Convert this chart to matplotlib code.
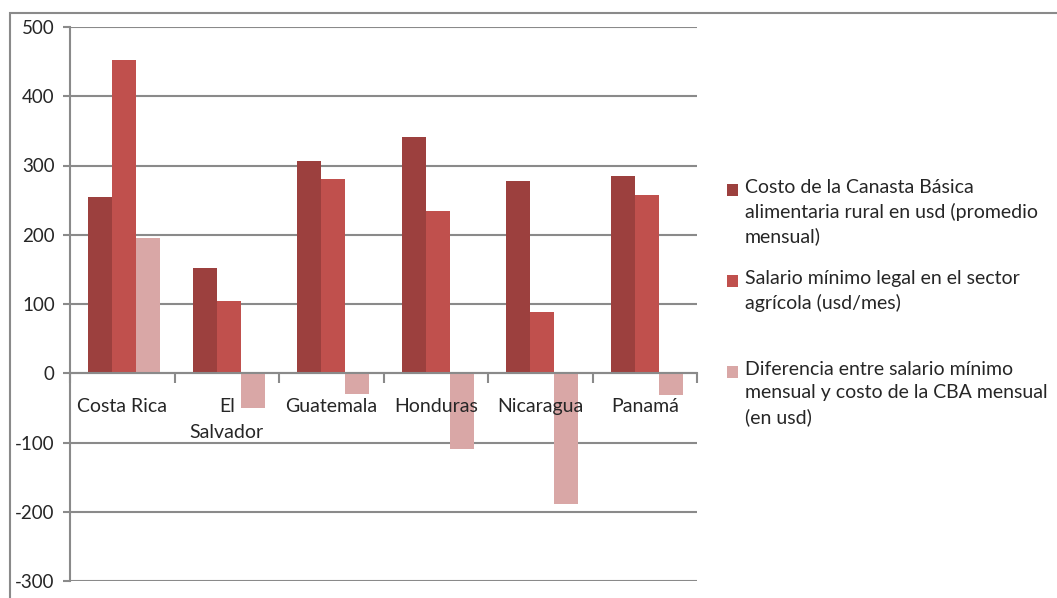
import matplotlib.pyplot as plt
import matplotlib.transforms as mtransforms
import numpy as np
from matplotlib.patches import Rectangle

# =========================
# DATA
# =========================
countries = ["Costa Rica", "El\nSalvador", "Guatemala", "Honduras", "Nicaragua", "Panamá"]

costo_cba = [255, 152, 307, 341, 277, 285]
salario_minimo = [452, 105, 280, 234, 88, 258]
diferencia = [195, -50, -30, -110, -189, -31]

series_labels = [
    "Costo de la Canasta Básica\nalimentaria rural en usd (promedio\nmensual)",
    "Salario mínimo legal en el sector\nagrícola (usd/mes)",
    "Diferencia entre salario mínimo\nmensual y costo de la CBA mensual\n(en usd)",
]
colors = ["#9c403e", "#c0504d", "#d9a7a6"]

yticks = [-300, -200, -100, 0, 100, 200, 300, 400, 500]

# =========================
# STYLE
# =========================
plt.rcParams.update({
    "font.family": ["Lato", "DejaVu Sans"],
    "font.size": 13.5,
    "axes.unicode_minus": False,
})
text_color = "#262626"
grid_color = "#8a8a8a"

W, H = 1057, 598
fig = plt.figure(figsize=(W / 100, H / 100), dpi=100)

# plot area in pixels
left, right, top, bottom = 70, 697, 27, 581
ax = fig.add_axes([left / W, 1 - bottom / H, (right - left) / W, (bottom - top) / H])

x = np.arange(len(countries))
width = 0.23
for i, (vals, col) in enumerate(zip([costo_cba, salario_minimo, diferencia], colors)):
    ax.bar(x + (i - 1) * width + 0.02, vals, width, color=col, zorder=3)

ax.set_xlim(-0.5, len(countries) - 0.5)
ax.set_ylim(-300, 500)
ax.set_yticks(yticks)
ax.yaxis.grid(True, color=grid_color, linewidth=1.5, zorder=0)
ax.tick_params(axis="y", length=5, width=1.5, color=grid_color, labelcolor=text_color, pad=6)

for s in ["top", "right"]:
    ax.spines[s].set_visible(False)
ax.spines["left"].set_color(grid_color)
ax.spines["left"].set_linewidth(1.5)
ax.spines["bottom"].set_position(("data", 0))
ax.spines["bottom"].set_color(grid_color)
ax.spines["bottom"].set_linewidth(1.5)
ax.spines["bottom"].set_zorder(4)

# category boundaries as ticks
ax.set_xticks(np.arange(-0.5, len(countries), 1.0))
ax.set_xticklabels([])
ax.tick_params(axis="x", direction="out", length=7, width=1.5, color=grid_color)

# category names drawn over the bars
offset = mtransforms.ScaledTranslation(0, -25 / 100, fig.dpi_scale_trans)
for xi, name in zip(x, countries):
    ax.text(xi, 0, name, ha="center", va="top", color=text_color, fontsize=14,
            linespacing=1.65, zorder=6, transform=ax.transData + offset)

# outer chart border (cropped on right and bottom)
fig.add_artist(Rectangle((10 / W, -0.1), 1.2, 1.1 - 13 / H, transform=fig.transFigure,
                         fill=False, edgecolor=grid_color, linewidth=1.5))

# legend
legend_y = [190, 281, 372]
for lab, col, ly in zip(series_labels, colors, legend_y):
    fig.add_artist(Rectangle((727 / W, 1 - (ly + 6) / H), 11 / W, 12 / H,
                             transform=fig.transFigure, facecolor=col, edgecolor="none"))
    fig.text(745 / W, 1 - (ly - 11) / H, lab, ha="left", va="top", color=text_color,
             fontsize=14, linespacing=1.45)

fig.savefig("out.png", dpi=100)
